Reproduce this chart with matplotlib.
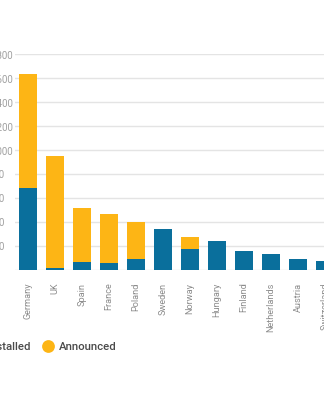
import matplotlib
matplotlib.use("Agg")
import matplotlib.pyplot as plt
from matplotlib.lines import Line2D
import numpy as np

# === Datos ===
countries = ["Germany", "UK", "Spain", "France", "Poland", "Sweden",
             "Norway", "Hungary", "Finland", "Netherlands", "Austria", "Switzerland"]
installed = [680, 15, 69, 61, 92, 339, 178, 239, 158, 131, 89, 78]
announced = [951, 935, 450, 403, 305, 0, 100, 0, 0, 0, 0, 0]
y_ticks = [0, 200, 400, 600, 800, 1000, 1200, 1400, 1600, 1800]

BLUE = "#0a6f9c"
YELLOW = "#fdb515"

plt.rcParams["font.family"] = ["Roboto", "DejaVu Sans"]

# === Figura ===
W, H = 324, 400
fig = plt.figure(figsize=(W / 100, H / 100), dpi=100)
ax = fig.add_axes([14.5 / W, 130 / H, 324 / W, 216 / H])

x = np.arange(len(countries))
ax.bar(x, installed, width=0.667, color=BLUE, zorder=2)
ax.bar(x, announced, width=0.667, bottom=installed, color=YELLOW, zorder=2)

ax.set_xlim(-0.5, 11.5)
ax.set_ylim(0, 1800)
ax.set_yticks(y_ticks)
ax.set_yticklabels([f"{v:,}" for v in y_ticks])
ax.grid(axis="y", color="#e4e4e4", lw=1, zorder=0)
ax.set_axisbelow(True)
for s in ax.spines.values():
    s.set_visible(False)

# etiquetas del eje y alineadas a la izquierda (quedan cortadas por el borde)
ax.tick_params(axis="y", length=0, pad=18.5, labelsize=7, labelcolor="#a0a0a0")
for lab in ax.get_yticklabels():
    lab.set_ha("left")

ax.set_xticks(x)
ax.set_xticklabels(countries, rotation=90, ha="center", va="top")
ax.tick_params(axis="x", length=0, pad=9, labelsize=6.6, labelcolor="#8c8c8c")

# === Leyenda ===
handles = [Line2D([], [], ls="none", marker="o", markersize=9.2, color=c, mec="none")
           for c in (BLUE, YELLOW)]
leg = fig.legend(handles, ["Installed", "Announced"], ncol=2, frameon=False,
                 loc="center left", bbox_to_anchor=(0, 1 - 347.3 / H),
                 borderpad=0, borderaxespad=0, handlelength=1.0, handletextpad=0.45,
                 columnspacing=1.05, prop={"size": 8.2, "weight": "medium"})
for t in leg.get_texts():
    t.set_color("#4a4a4a")

# ajustar posicion horizontal de la leyenda
fig.canvas.draw()
x0 = leg.get_texts()[1].get_window_extent().x0
dx = (59.3 - x0) / W
leg.set_bbox_to_anchor((dx, 1 - 347.3 / H), transform=fig.transFigure)

fig.savefig("out.png", dpi=100)
